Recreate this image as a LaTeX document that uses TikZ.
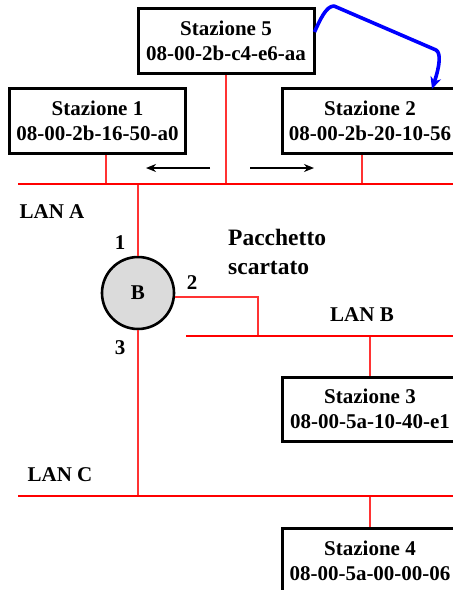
\documentclass[tikz,border=0pt]{standalone}
\usepackage{fontspec}
\setmainfont{Liberation Serif}
\usetikzlibrary{arrows.meta}
\tikzset{
  stbox/.style={draw=black, line width=3pt, fill=white, minimum width=176pt, minimum height=65pt, inner sep=0pt, align=center, font=\fontsize{21}{25}\selectfont\bfseries},
  lan/.style={red, line width=2.8pt},
  drop/.style={red!80!white, line width=1.7pt},
  lbl/.style={font=\fontsize{21}{25}\selectfont\bfseries, inner sep=0pt},
  dirarrow/.style={black, line width=2.4pt, -{Stealth[length=10pt,width=8pt]}},
  bluearrow/.style={blue, line width=3.6pt, line join=round, -{Stealth[length=12pt,width=11pt]}}
}
\begin{document}
\begin{tikzpicture}[x=1pt,y=-1pt]
\useasboundingbox (0,0) rectangle (453,590);
\clip (0,0) rectangle (453,590);
% stations
\node[stbox] (s5) at (226,40.5) {Stazione 5\\08-00-2b-c4-e6-aa};
\node[stbox] (s1) at (97.5,120.5) {Stazione 1\\08-00-2b-16-50-a0};
\node[stbox] (s2) at (370,120.5) {Stazione 2\\08-00-2b-20-10-56};
\node[stbox, minimum height=64pt] (s3) at (370,409) {Stazione 3\\08-00-5a-10-40-e1};
\node[stbox] (s4) at (370,560.5) {Stazione 4\\08-00-5a-00-00-06};
% bridge
\node[circle, draw=black, line width=2.6pt, fill=black!14, minimum size=72pt, inner sep=0pt, font=\fontsize{21}{25}\selectfont\bfseries] (B) at (138,293) {B};
% LAN coordinates
\coordinate (aL) at (18,184);
\coordinate (aR) at (460,184);
\coordinate (bL) at (186,336);
\coordinate (bR) at (460,336);
\coordinate (cL) at (18,496);
\coordinate (cR) at (460,496);
\coordinate (t1) at (106,184);
\coordinate (t5) at (226,184);
\coordinate (t2) at (362,184);
\coordinate (tb) at (138,184);
\coordinate (tc) at (138,496);
\coordinate (p2) at (258,297);
\coordinate (tp2) at (258,336);
\coordinate (t3) at (370,336);
\coordinate (t4) at (370,496);
% drops
\draw[drop] (t1) -- (t1 |- s1.south);
\draw[drop] (t5) -- (s5.south);
\draw[drop] (t2) -- (t2 |- s2.south);
\draw[drop] (t3) -- (s3.north);
\draw[drop] (t4) -- (s4.north);
\draw[drop] (tb) -- (B.north);
\draw[drop] (B.south) -- (tc);
\draw[drop] (B.-6) -- (p2) -- (tp2);
% LANs
\draw[lan] (aL) -- (aR);
\draw[lan] (bL) -- (bR);
\draw[lan] (cL) -- (cR);
% direction arrows
\coordinate (la1) at (210,168);
\coordinate (la2) at (146,168);
\coordinate (ra1) at (250,168);
\coordinate (ra2) at (314,168);
\draw[dirarrow] (la1) -- (la2);
\draw[dirarrow] (ra1) -- (ra2);
% blue arrow
\coordinate (bs) at (314.5,32);
\coordinate (bpk) at (334,6);
\coordinate (bmid) at (436,50);
\coordinate (be) at (432,89);
\draw[bluearrow] (bs) .. controls (320,20) and (326,6) .. (bpk) -- (bmid) .. controls (441,53) and (440,65) .. (be);
% labels
\node[lbl] (lanA) at (52,212) {LAN A};
\node[lbl] (lanB) at (362,315) {LAN B};
\node[lbl] (lanC) at (60,475) {LAN C};
\node[lbl] (n1) at (120,243) {1};
\node[lbl] (n2) at (192,283) {2};
\node[lbl] (n3) at (120,348) {3};
\node[anchor=west, align=left, inner sep=0pt, font=\fontsize{23.5}{29}\selectfont\bfseries] (pk) at (228,252) {Pacchetto\\scartato};
\end{tikzpicture}
\end{document}
